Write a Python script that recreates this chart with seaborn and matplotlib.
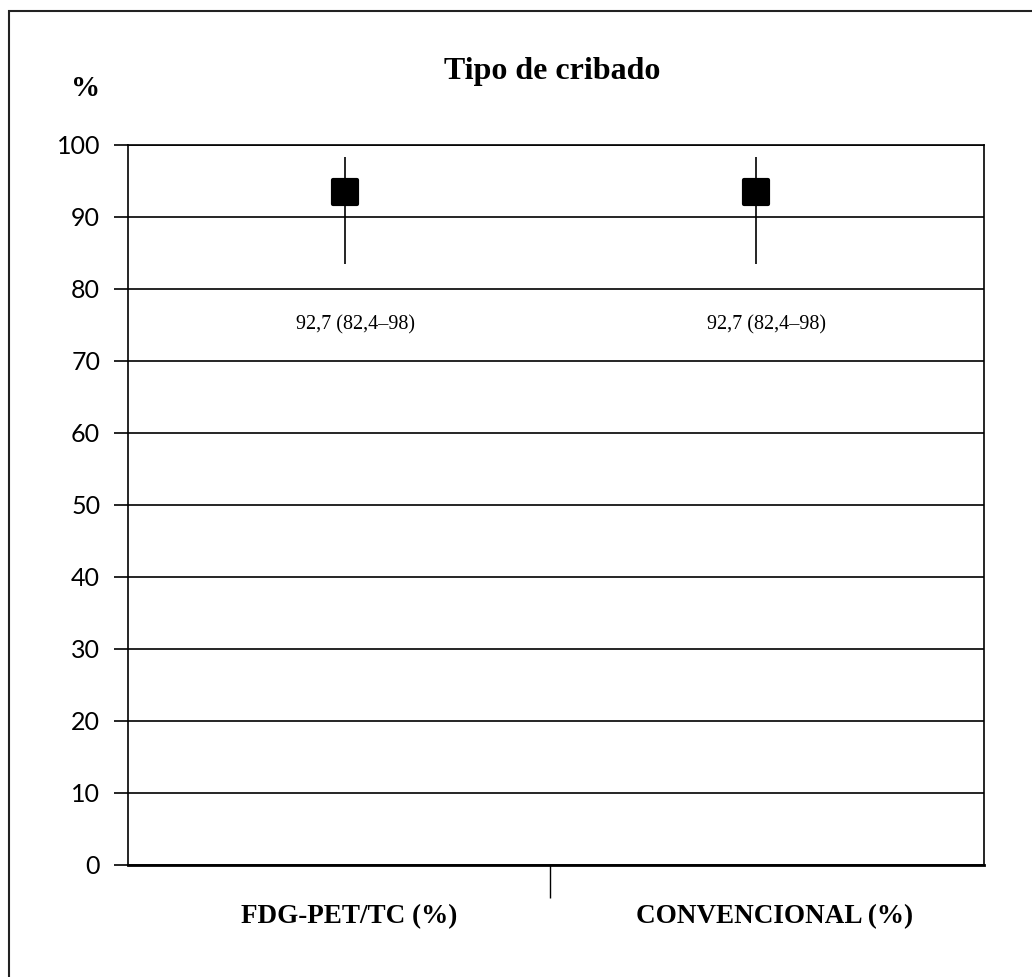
import matplotlib
matplotlib.use("Agg")
import matplotlib.pyplot as plt
import seaborn as sns
import pandas as pd
from matplotlib.patches import Rectangle

categories = ["FDG-PET/TC (%)", "CONVENCIONAL (%)"]
point_values = [93.5, 93.5]
ci_low = [83.5, 83.5]
ci_high = [98.3, 98.3]
value_labels = ["92,7 (82,4\u201398)", "92,7 (82,4\u201398)"]
y_ticks = [0, 10, 20, 30, 40, 50, 60, 70, 80, 90, 100]

df = pd.DataFrame({"cat": categories, "val": point_values, "lo": ci_low, "hi": ci_high})
df["x"] = range(len(df))

sns.set_style("white")
plt.rcParams["text.color"] = "black"
plt.rcParams["ytick.color"] = "black"
plt.rcParams["xtick.color"] = "black"
W, H = 1032, 977
fig = plt.figure(figsize=(W / 100, H / 100), dpi=100)
ax = fig.add_axes([128 / W, 1 - 865 / H, (984 - 128) / W, (865 - 145) / H])

# outer frame
fig.patches.append(Rectangle((9 / W, -0.1), 1.2, 1 - 11 / H + 0.1, transform=fig.transFigure,
                             fill=False, edgecolor="#222222", linewidth=1.5))

for y in y_ticks:
    ax.axhline(y, color="black", linewidth=1.2, zorder=1)

ax.vlines(df["x"], df["lo"], df["hi"], color="black", linewidth=1.2, zorder=2)
sns.scatterplot(data=df, x="x", y="val", marker="s", s=300, color="black",
                edgecolor="black", linewidth=3, ax=ax, zorder=3, legend=False)
for c in ax.collections:
    c.set_joinstyle("round")

for i, lab in enumerate(value_labels):
    ax.text(df["x"][i] + 0.025, 75, lab, ha="center", va="center",
            fontsize=14.5, family="Liberation Serif", color="black")

ax.set_xlim(-0.528, 1.555)
ax.set_ylim(0, 100)
ax.set_yticks(y_ticks)
ax.set_yticklabels([str(v) for v in y_ticks], fontsize=18, family="Lato", color="black")
ax.tick_params(axis="y", length=10, width=1.2, color="black", left=True, pad=10)
ax.set_xticks([0.5])
ax.set_xticklabels([""])
ax.tick_params(axis="x", length=24, width=1, color="black", bottom=True, direction="out")
ax.set_xlabel("")
ax.set_ylabel("")
for s in ["left", "right", "top"]:
    ax.spines[s].set_color("black")
    ax.spines[s].set_linewidth(1.2)
ax.spines["bottom"].set_color("black")
ax.spines["bottom"].set_linewidth(2)

label_x = [349, 775]
for lx, c in zip(label_x, categories):
    fig.text(lx / W, 1 - 917 / H, c, ha="center", va="center", fontsize=19.5,
             fontweight="bold", family="Liberation Serif", color="black")

fig.text(552 / W, 1 - 72 / H, "Tipo de cribado", ha="center", va="center",
         fontsize=23, fontweight="bold", family="Liberation Serif", color="black")
fig.text(86 / W, 1 - 88 / H, "%", ha="center", va="center",
         fontsize=21, fontweight="bold", family="Liberation Serif", color="black")

fig.savefig("out.png", dpi=100, facecolor="white")
